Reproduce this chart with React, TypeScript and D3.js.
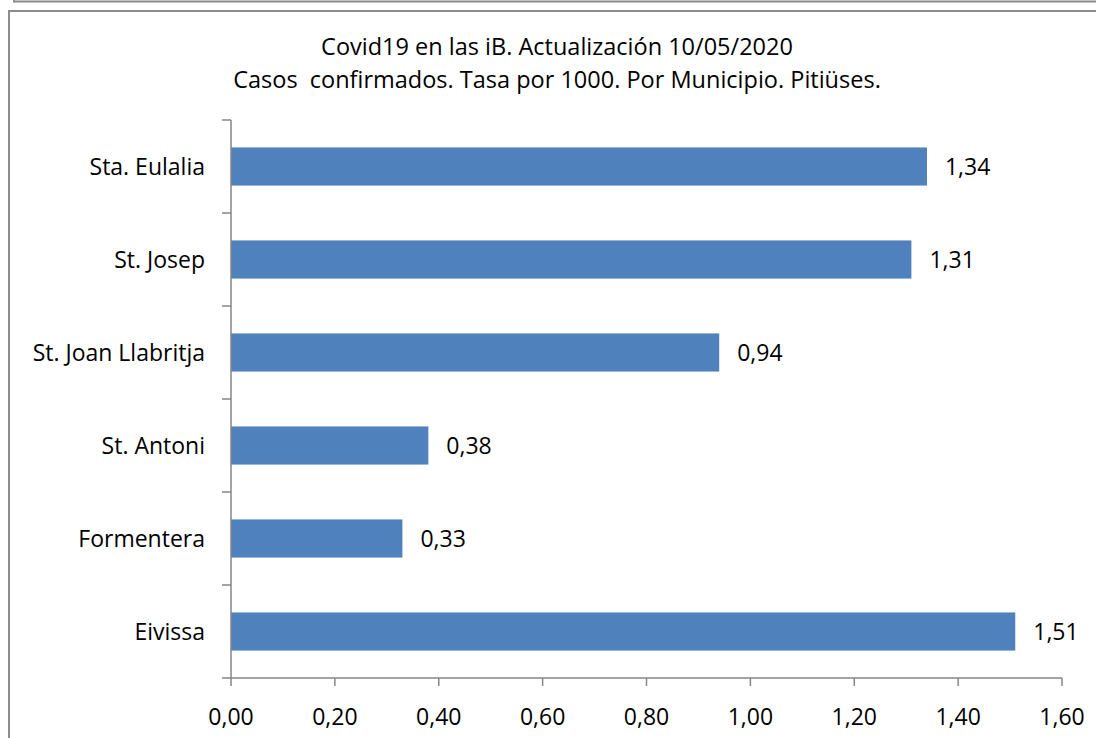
import React from "react";
import * as d3 from "d3";

const categories = ["Sta. Eulalia", "St. Josep", "St. Joan Llabritja", "St. Antoni", "Formentera", "Eivissa"];
const values = [1.34, 1.31, 0.94, 0.38, 0.33, 1.51];
const xTicks = [0, 0.2, 0.4, 0.6, 0.8, 1.0, 1.2, 1.4, 1.6];
const titleLines = ["Covid19 en las iB. Actualización 10/05/2020", "Casos  confirmados. Tasa por 1000. Por Municipio. Pitiüses."];

const W = 1096, H = 738;
const FONT = "'Open Sans', 'Noto Sans', sans-serif";

export default function App() {
  const x = d3.scaleLinear().domain([0, 1.6]).range([231, 1062]);
  const y = d3.scaleBand<string>().domain(categories).range([120, 678]).paddingInner(0.59).paddingOuter(0.295);
  const fmt = (v: number) => v.toFixed(2).replace(".", ",");
  const axisColor = "#868686";
  const bandEdges = d3.range(categories.length + 1).map((i) => 120 + i * (558 / categories.length));
  return (
    <svg width={W} height={H} style={{ position: "fixed", left: 0, top: 0, background: "#fff" }} fontFamily={FONT}>
      <rect x={0} y={0} width={W} height={H} fill="#fff" />
      {/* outer frames */}
      <line x1={14} y1={1.5} x2={W} y2={1.5} stroke="#8c8c8c" strokeWidth={2} />
      <line x1={14} y1={0} x2={14} y2={2.5} stroke="#8c8c8c" strokeWidth={2} />
      <line x1={9} y1={11} x2={W} y2={11} stroke="#8c8c8c" strokeWidth={2} />
      <line x1={9} y1={10} x2={9} y2={H} stroke="#8c8c8c" strokeWidth={2} />
      {/* title */}
      {titleLines.map((t, i) => (
        <text key={i} x={557} y={55 + i * 33} textAnchor="middle" fontSize={23.5} fill="#000" style={{ whiteSpace: "pre" }}>{t}</text>
      ))}
      {/* bars */}
      {categories.map((c, i) => (
        <rect key={c} x={x(0)} y={y(c)} width={x(values[i]) - x(0)} height={y.bandwidth()} fill="#4F81BD" />
      ))}
      {/* value labels */}
      {categories.map((c, i) => (
        <text key={c} x={x(values[i]) + 18} y={(y(c) as number) + y.bandwidth() / 2 + 8} fontSize={23} fill="#000">{fmt(values[i])}</text>
      ))}
      {/* y axis */}
      <line x1={x(0)} y1={120} x2={x(0)} y2={678} stroke={axisColor} strokeWidth={1.5} />
      {bandEdges.map((yy, i) => (
        <line key={i} x1={222} y1={yy} x2={x(0)} y2={yy} stroke={axisColor} strokeWidth={1.5} />
      ))}
      {categories.map((c) => (
        <text key={c} x={205} y={(y(c) as number) + y.bandwidth() / 2 + 8} textAnchor="end" fontSize={23} fill="#000">{c}</text>
      ))}
      {/* x axis */}
      <line x1={x(0)} y1={678} x2={x(1.6)} y2={678} stroke={axisColor} strokeWidth={1.5} />
      {xTicks.map((t) => (
        <g key={t}>
          <line x1={x(t)} y1={678} x2={x(t)} y2={686} stroke={axisColor} strokeWidth={1.5} />
          <text x={x(t)} y={725} textAnchor="middle" fontSize={23} fill="#000">{fmt(t)}</text>
        </g>
      ))}
    </svg>
  );
}
